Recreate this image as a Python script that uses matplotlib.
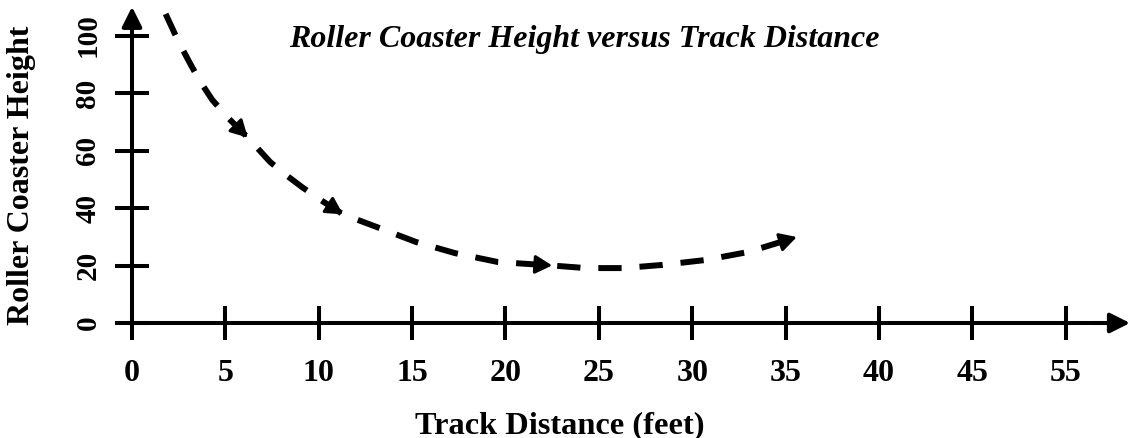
import matplotlib
matplotlib.use("Agg")
import matplotlib.pyplot as plt
import numpy as np

# ---- data ----
track_x = [1.8, 2.5, 3.1, 3.6, 4.3, 5.2, 6.2, 7.4, 8.1, 9.1, 10.1, 11.3,
           13.1, 15.2, 17.3, 19.6, 22.5, 24.1, 25.2, 26.3, 28.4, 30.7, 33.0, 35.6]
height_y = [107.5, 97.7, 90.4, 84.5, 77.6, 71.0, 64.5, 56.0, 52.2, 47.3, 42.8, 37.8,
            33.4, 28.2, 24.3, 21.2, 20.0, 19.2, 19.1, 19.1, 20.2, 21.9, 24.7, 29.9]
arrow_tips = [6.2, 11.3, 22.5, 35.6]          # x positions of arrowheads on the curve
x_tick_pos = [0, 5, 10, 15, 20, 25, 30, 35, 40, 45, 50]
x_tick_labels = ["0", "5", "10", "15", "20", "25", "30", "35", "40", "45", "55"]
y_tick_pos = [0, 20, 40, 60, 80, 100]
y_tick_labels = ["0", "20", "40", "60", "80", "100"]

title = "Roller Coaster Height versus Track Distance"
xlabel = "Track Distance (feet)"
ylabel = "Roller Coaster Height"

plt.rcParams['font.family'] = ['Liberation Serif', 'DejaVu Serif']

fig = plt.figure(figsize=(11.31, 4.38), dpi=100)
ax = fig.add_axes([0, 0, 1, 1])
ax.set_xlim(-7.07, 53.5)
ax.set_ylim(-40, 112.35)

for s in ['top', 'right']:
    ax.spines[s].set_visible(False)
ax.spines['left'].set_position(('data', 0))
ax.spines['bottom'].set_position(('data', 0))
ax.spines['left'].set_bounds(0, 106)
ax.spines['bottom'].set_bounds(0, 52.5)
ax.spines['left'].set_linewidth(2.9)
ax.spines['bottom'].set_linewidth(2.9)

ax.set_xticks(x_tick_pos)
ax.set_xticklabels(x_tick_labels, fontsize=23, fontweight='bold')
ax.set_yticks(y_tick_pos)
ax.set_yticklabels(y_tick_labels, fontsize=21, fontweight='bold', rotation=90, va='center')
ax.tick_params(axis='x', direction='inout', length=24, width=2.9, pad=14)
ax.tick_params(axis='y', direction='inout', length=24, width=2.9, pad=10)

# axis arrowheads
arrow_style = '-|>,head_length=0.6,head_width=0.3'
ax.annotate('', xy=(53.45, 0), xytext=(51.5, 0), annotation_clip=False,
            arrowprops=dict(arrowstyle=arrow_style, mutation_scale=20, lw=2.9,
                            color='k', shrinkA=0, shrinkB=0))
ax.annotate('', xy=(0, 110.0), xytext=(0, 104), annotation_clip=False,
            arrowprops=dict(arrowstyle=arrow_style, mutation_scale=20, lw=2.9,
                            color='k', shrinkA=0, shrinkB=0))

# dashed curve
ax.plot(track_x, height_y, color='k', lw=4.3, linestyle=(0, (3.9, 3.0)),
        dash_capstyle='butt')

# arrowheads along the curve
for tx in arrow_tips:
    i = track_x.index(tx)
    tip = (track_x[i], height_y[i])
    prev = (track_x[i - 1], height_y[i - 1])
    tail = (tip[0] + (prev[0] - tip[0]) * 0.5, tip[1] + (prev[1] - tip[1]) * 0.5)
    ax.annotate('', xy=tip, xytext=tail,
                arrowprops=dict(arrowstyle='-|>,head_length=0.6,head_width=0.33',
                                mutation_scale=17, lw=2.2, color='k',
                                shrinkA=0, shrinkB=0))

ax.text(24.2, 98.6, title, fontsize=23, fontweight='bold', fontstyle='italic',
        ha='center', va='center')
ax.text(22.9, -38.3, xlabel, fontsize=23.3, fontweight='bold', ha='center',
        va='baseline')
ax.text(-5.9, 51.5, ylabel, fontsize=23, fontweight='bold', ha='center', va='center',
        rotation=90)

fig.savefig("out.png", dpi=100)
